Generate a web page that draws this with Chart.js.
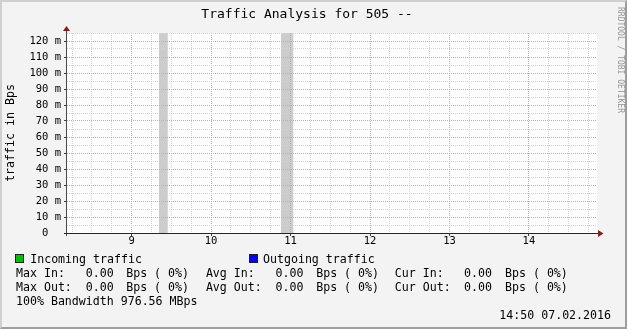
<!DOCTYPE html>
<html lang="en">
  <head>
    <meta charset="UTF-8" />
    <title>Traffic Analysis for 505</title>
    <script src="https://cdn.jsdelivr.net/npm/chart.js"></script>
    <style>
      body { margin: 0; }
      #wrap { position: relative; width: 627px; height: 329px; background: #f3f3f3; overflow: hidden;
              font-family: "DejaVu Sans Mono", monospace; color: #000; }
      #frame { position: absolute; left: 0; top: 0; width: 627px; height: 329px; box-sizing: border-box;
               border: 2px solid; border-color: #cfcfcf #9e9e9e #9e9e9e #cfcfcf; }
      #chart { position: absolute; left: 0; top: 0; }
      .t { position: absolute; white-space: pre; font-size: 11.6px; line-height: 14px; }
      #title { position: absolute; left: 0; top: 6px; width: 614px; text-align: center;
               font-size: 13px; line-height: 16px; white-space: pre; }
      #mark { position: absolute; left: 625px; top: 7px; transform-origin: 0 0; transform: rotate(90deg);
              font-size: 8px; line-height: 10px; color: #959595; white-space: pre; }
      .box { position: absolute; width: 9px; height: 9px; box-sizing: border-box; border: 1px solid #202020; }
    </style>
  </head>
  <body>
    <div id="wrap">
      <div id="frame"></div>
      <canvas id="chart" width="627" height="329"></canvas>
      <div id="title">Traffic Analysis for 505 --</div>
      <div id="mark">RRDTOOL / TOBI OETIKER</div>
      <div id="legend"></div>
    </div>

    <script>
      // time of day in hours, values in bytes per second
      const sampleHours = [8.19, 9.0, 9.34, 9.46, 10.0, 10.88, 11.04, 12.0, 13.0, 14.0, 14.85];
      const incomingBps = [0, 0, 0, 0, 0, 0, 0, 0, 0, 0, 0];
      const outgoingBps = [0, 0, 0, 0, 0, 0, 0, 0, 0, 0, 0];
      // periods without data (grey)
      const unknownFrom = [9.343, 10.878];
      const unknownTo = [9.456, 11.038];

      const xHours = [9, 10, 11, 12, 13, 14];
      const xTickLabels = ["9", "10", "11", "12", "13", "14"];
      const yTickLabels = ["0  ", "10 m", "20 m", "30 m", "40 m", "50 m", "60 m",
                           "70 m", "80 m", "90 m", "100 m", "110 m", "120 m"];

      // max, avg, cur
      const statsIn = [0, 0, 0];
      const statsOut = [0, 0, 0];
      const pctIn = [0, 0, 0];
      const pctOut = [0, 0, 0];
      const bandwidth = "976.56 MBps";
      const stamp = "14:50 07.02.2016";

      const xMin = 8.1864, xMax = 14.857;
      const yMax = 0.125;

      const near = (v, step) => Math.abs(v / step - Math.round(v / step)) < 1e-6;
      const GRID = "#d2d2d2";
      const MGRID = "#e49c9c";

      // legend text
      const show = (t) => document.querySelector(t);
      const leg = show("#legend");
      const put = (x, y, txt) => {
        const d = document.createElement("div");
        d.className = "t";
        d.style.left = x + "px";
        d.style.top = y + "px";
        d.textContent = txt;
        leg.appendChild(d);
      };
      const box = (x, y, c) => {
        const d = document.createElement("div");
        d.className = "box";
        d.style.left = x + "px";
        d.style.top = y + "px";
        d.style.background = c;
        leg.appendChild(d);
      };
      box(15, 254, "#00c000");
      put(30.2, 252, "Incoming traffic");
      box(249, 254, "#0000ff");
      put(263, 252, "Outgoing traffic");

      const cols = [16, 85.8, 126.2, 205.9, 275.6, 316.2, 394.8, 464.1, 505];
      const row = (y, names, vals, pcts) => {
        names.forEach((n, i) => {
          put(cols[i * 3], y, n);
          put(cols[i * 3 + 1], y, vals[i].toFixed(2));
          put(cols[i * 3 + 2], y, "Bps (" + String(pcts[i]).padStart(2) + "%)");
        });
      };
      row(266, ["Max In:", "Avg In:", "Cur In:"], statsIn, pctIn);
      row(280, ["Max Out:", "Avg Out:", "Cur Out:"], statsOut, pctOut);
      put(16, 293.5, "100% Bandwidth " + bandwidth);
      const st = document.createElement("div");
      st.className = "t";
      st.style.right = "16px";
      st.style.top = "308px";
      st.textContent = stamp;
      leg.appendChild(st);

      // grey bars for the unknown periods
      const unknownPts = [];
      unknownFrom.forEach((s, i) => {
        unknownPts.push({ x: s, y: yMax }, { x: unknownTo[i], y: yMax }, { x: unknownTo[i] + 0.01, y: null });
      });

      const rrdLook = {
        id: "rrdLook",
        beforeDraw(chart) {
          const { ctx, chartArea: a } = chart;
          ctx.save();
          ctx.fillStyle = "#fff";
          ctx.fillRect(a.left, a.top, a.right - a.left, a.bottom - a.top);
          ctx.restore();
        },
        beforeDatasetDraw(chart, args) {
          if (args.index === 2) { chart.ctx.save(); chart.ctx.translate(0, 0.5); }
        },
        afterDatasetDraw(chart, args) {
          if (args.index === 2) chart.ctx.restore();
        },
        afterDraw(chart) {
          const { ctx, chartArea: a } = chart;
          const y0 = chart.scales.y.getPixelForValue(0) + 0.5;
          ctx.save();
          ctx.lineWidth = 1;
          ctx.strokeStyle = "#4a4a4a";
          ctx.beginPath();
          ctx.moveTo(a.left - 0.5, a.bottom + 3);
          ctx.lineTo(a.left - 0.5, a.top - 3);
          ctx.stroke();
          ctx.strokeStyle = "#1c1c6a";
          ctx.beginPath();
          ctx.moveTo(a.left - 3, y0);
          ctx.lineTo(a.right + 1, y0);
          ctx.stroke();
          ctx.fillStyle = "#8b1a1a";
          ctx.beginPath();
          ctx.moveTo(a.right + 1, y0 - 3.5);
          ctx.lineTo(a.right + 6.5, y0);
          ctx.lineTo(a.right + 1, y0 + 3.5);
          ctx.closePath();
          ctx.fill();
          ctx.beginPath();
          ctx.moveTo(a.left - 4, a.top - 2);
          ctx.lineTo(a.left - 0.5, a.top - 7);
          ctx.lineTo(a.left + 3, a.top - 2);
          ctx.closePath();
          ctx.fill();
          ctx.restore();
        },
      };

      const xy = (xs, ys) => xs.map((x, i) => ({ x, y: ys[i] }));

      new Chart(show("#chart").getContext("2d"), {
        type: "line",
        data: {
          datasets: [
            {
              label: "unknown",
              data: unknownPts,
              backgroundColor: "#cccccc",
              borderWidth: 0,
              pointRadius: 0,
              fill: "origin",
              spanGaps: false,
            },
            {
              label: "Incoming traffic",
              data: xy(sampleHours, incomingBps),
              backgroundColor: "#00c000",
              borderWidth: 0,
              pointRadius: 0,
              fill: "origin",
            },
            {
              label: "Outgoing traffic",
              data: xy(sampleHours, outgoingBps),
              borderColor: "#0000ff",
              borderWidth: 1,
              pointRadius: 0,
              fill: false,
            },
          ],
        },
        options: {
          responsive: false,
          animation: false,
          devicePixelRatio: 1,
          layout: { padding: { top: 33, right: 30, bottom: 0, left: 0 } },
          plugins: { legend: { display: false }, title: { display: false }, tooltip: { enabled: false } },
          scales: {
            x: {
              type: "linear",
              min: xMin,
              max: xMax,
              afterFit: (s) => { s.height = 96; },
              border: { display: false, dash: [1, 1] },
              grid: {
                z: 1,
                tickLength: 3,
                color: (c) => (near(c.tick.value, 1) ? MGRID : GRID),
                tickColor: (c) => (near(c.tick.value, 1) ? "#404040" : "rgba(0,0,0,0)"),
              },
              ticks: {
                stepSize: 0.25,
                includeBounds: false,
                autoSkip: false,
                maxRotation: 0,
                padding: -1,
                color: "#000",
                font: { family: "DejaVu Sans Mono", size: 10.5 },
                callback: (v) => {
                  const i = xHours.indexOf(Math.round(v));
                  return i >= 0 && near(v, 1) ? xTickLabels[i] : "";
                },
              },
            },
            y: {
              min: 0,
              max: yMax,
              afterFit: (s) => { s.width = 67; },
              border: { display: false, dash: [1, 1] },
              grid: {
                z: 1,
                tickLength: 3,
                color: (c) => (near(c.tick.value, 0.01) ? MGRID : GRID),
                tickColor: (c) => (near(c.tick.value, 0.01) ? "#404040" : "rgba(0,0,0,0)"),
              },
              title: {
                display: true,
                text: "traffic in Bps",
                color: "#000",
                padding: 0,
                font: { family: "DejaVu Sans Mono", size: 11.6, lineHeight: "21px" },
              },
              ticks: {
                stepSize: 0.005,
                autoSkip: false,
                padding: 3,
                color: "#000",
                font: { family: "DejaVu Sans Mono", size: 10.5 },
                callback: (v) => (near(v, 0.01) ? yTickLabels[Math.round(v / 0.01)] : ""),
              },
            },
          },
        },
        plugins: [rrdLook],
      });
    </script>
  </body>
</html>
